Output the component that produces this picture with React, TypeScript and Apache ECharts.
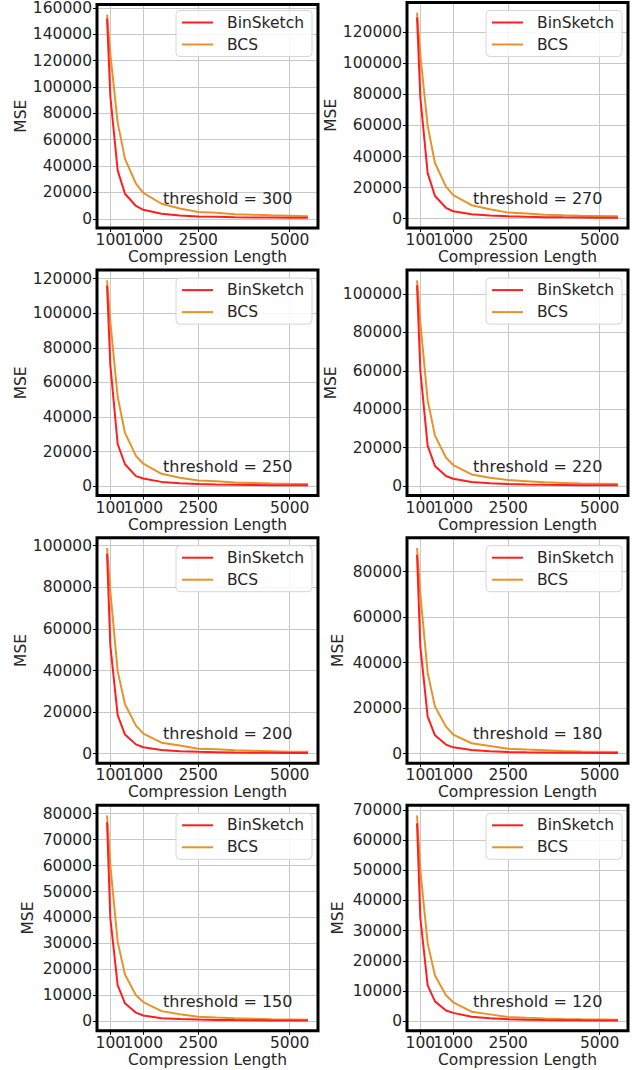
import React, { useEffect, useRef } from "react";
import * as echarts from "echarts";

// ---------- data ----------
const compressionLength = [10, 100, 300, 500, 800, 1000, 1500, 2000, 2500, 3000, 3500, 4000, 4500, 5000, 5500];
const xTicks = [100, 1000, 2500, 5000];

const binSketch300 = [152000, 93000, 36700, 19000, 9700, 6800, 3800, 2400, 1800, 1500, 1200, 1000, 900, 800, 700];
const bcs300 = [155000, 125000, 73000, 45500, 26600, 19700, 11400, 7800, 5200, 4500, 3500, 3000, 2600, 2300, 2000];

const binSketch270 = [129500, 78000, 29300, 14600, 7000, 4800, 2900, 2000, 1500, 1200, 1000, 850, 750, 650, 600];
const bcs270 = [132500, 105000, 59700, 35800, 20600, 15200, 8700, 6100, 3900, 3300, 2600, 2200, 1900, 1700, 1500];

const binSketch250 = [116000, 70000, 24400, 12700, 5850, 4500, 2500, 1700, 1300, 1000, 850, 700, 600, 550, 500];
const bcs250 = [119000, 95000, 51700, 30800, 17500, 13000, 7200, 4900, 3300, 2800, 2200, 1900, 1600, 1400, 1300];

const binSketch220 = [104400, 60000, 21000, 10500, 5300, 3900, 2200, 1500, 1100, 900, 750, 650, 550, 500, 450];
const bcs220 = [107000, 85000, 44700, 26300, 14900, 11000, 6100, 4400, 3200, 2600, 2000, 1700, 1400, 1300, 1100];

const binSketch200 = [96100, 52000, 18600, 9200, 4500, 3100, 1800, 1200, 900, 750, 600, 520, 450, 400, 380];
const bcs200 = [98900, 78000, 39700, 23800, 13500, 9700, 5300, 4000, 2400, 2100, 1700, 1400, 1200, 1000, 900];

const binSketch180 = [87400, 47000, 16300, 8100, 4000, 2800, 1600, 1100, 800, 650, 550, 470, 400, 360, 330];
const bcs180 = [90400, 70000, 35600, 20700, 11900, 8400, 4600, 3400, 2200, 1800, 1500, 1200, 1000, 900, 800];

const binSketch150 = [76700, 39700, 13900, 6900, 3300, 2200, 1200, 850, 650, 520, 440, 380, 330, 300, 270];
const bcs150 = [79300, 60000, 30600, 18000, 10000, 7400, 3900, 2700, 1700, 1400, 1150, 950, 800, 700, 600];

const binSketch120 = [65500, 34200, 11900, 6600, 3600, 2800, 1500, 1000, 700, 550, 450, 380, 330, 290, 260];
const bcs120 = [68100, 50000, 25800, 15200, 8600, 6300, 3200, 2300, 1400, 1150, 950, 800, 680, 600, 520];

const yTicks300 = [0, 20000, 40000, 60000, 80000, 100000, 120000, 140000, 160000];
const yTicks270 = [0, 20000, 40000, 60000, 80000, 100000, 120000];
const yTicks250 = [0, 20000, 40000, 60000, 80000, 100000, 120000];
const yTicks220 = [0, 20000, 40000, 60000, 80000, 100000];
const yTicks200 = [0, 20000, 40000, 60000, 80000, 100000];
const yTicks180 = [0, 20000, 40000, 60000, 80000];
const yTicks150 = [0, 10000, 20000, 30000, 40000, 50000, 60000, 70000, 80000];
const yTicks120 = [0, 10000, 20000, 30000, 40000, 50000, 60000, 70000];

const seriesNames = ["BinSketch", "BCS"];

const panels = [
  { threshold: 300, bin: binSketch300, bcs: bcs300, yTicks: yTicks300 },
  { threshold: 270, bin: binSketch270, bcs: bcs270, yTicks: yTicks270 },
  { threshold: 250, bin: binSketch250, bcs: bcs250, yTicks: yTicks250 },
  { threshold: 220, bin: binSketch220, bcs: bcs220, yTicks: yTicks220 },
  { threshold: 200, bin: binSketch200, bcs: bcs200, yTicks: yTicks200 },
  { threshold: 180, bin: binSketch180, bcs: bcs180, yTicks: yTicks180 },
  { threshold: 150, bin: binSketch150, bcs: bcs150, yTicks: yTicks150 },
  { threshold: 120, bin: binSketch120, bcs: bcs120, yTicks: yTicks120 },
];

// ---------- style ----------
const FONT = "DejaVu Sans";
const TEXT = "#262626";
const FS = 15.5;
const RED = "#ff1f1f";
const ORANGE = "#e8932a";
const GRIDLINE = "#c8c8c8";

function buildOption() {
  const grid: any[] = [];
  const xAxis: any[] = [];
  const yAxis: any[] = [];
  const series: any[] = [];
  const legend: any[] = [];
  const graphic: any[] = [];

  const labelBase = {
    fontFamily: FONT,
    fontSize: FS,
    color: TEXT,
    hideOverlap: false,
    showMinLabel: true,
    showMaxLabel: true,
    formatter: (v: number) => String(v),
  };

  panels.forEach((p, i) => {
    const col = i % 2;
    const row = Math.floor(i / 2);
    const left = col === 0 ? 97 : 407;
    const top = 2.5 + row * 267.6;
    const width = 221;
    const height = 225.5;

    grid.push({
      left, top, width, height,
      show: true,
      borderColor: "#000",
      borderWidth: 3,
      backgroundColor: "transparent",
      containLabel: false,
      z: 6,
    });

    const all = [...p.bin, ...p.bcs];
    const ymin = Math.min(...all);
    const ymax = Math.max(...all);
    const ypad = (ymax - ymin) * 0.05;
    const xmin = compressionLength[0];
    const xmax = compressionLength[compressionLength.length - 1];
    const xpad = (xmax - xmin) * 0.05;

    // main x axis (index 2i): ticks at all positions, labels for all but the first
    xAxis.push({
      type: "value",
      gridIndex: i,
      position: "bottom",
      min: xmin - xpad,
      max: xmax + xpad,
      name: "Compression Length",
      nameLocation: "middle",
      nameGap: 19,
      nameTextStyle: { fontFamily: FONT, fontSize: FS, color: TEXT },
      axisLine: { show: false, onZero: false },
      axisTick: { show: true, customValues: xTicks, length: 4, lineStyle: { color: "#000", width: 1 } },
      axisLabel: { ...labelBase, customValues: xTicks.slice(1), margin: 4 },
      splitLine: { show: false },
    });
    // secondary x axis (index 2i+1): only the first label, so that overlapping labels are both kept
    xAxis.push({
      type: "value",
      gridIndex: i,
      position: "bottom",
      min: xmin - xpad,
      max: xmax + xpad,
      axisLine: { show: false, onZero: false },
      axisTick: { show: false },
      axisLabel: { ...labelBase, customValues: xTicks.slice(0, 1), margin: 4 },
      splitLine: { show: false },
    });

    const maxTick = p.yTicks[p.yTicks.length - 1];
    const labelChars = String(maxTick).length;
    yAxis.push({
      type: "value",
      gridIndex: i,
      min: ymin - ypad,
      max: ymax + ypad,
      name: "MSE",
      nameLocation: "middle",
      nameRotate: 90,
      nameGap: labelChars * 7 + 26.5,
      nameTextStyle: { fontFamily: FONT, fontSize: FS, color: TEXT },
      axisLine: { show: false, onZero: false },
      axisTick: { show: true, customValues: p.yTicks, length: 4, lineStyle: { color: "#000", width: 1 } },
      axisLabel: { ...labelBase, customValues: p.yTicks, margin: 5 },
      splitLine: { show: false },
    });

    // gridlines at the tick positions
    series.push({
      type: "line",
      xAxisIndex: 2 * i,
      yAxisIndex: i,
      data: [],
      silent: true,
      z: 1,
      markLine: {
        silent: true,
        symbol: ["none", "none"],
        label: { show: false },
        animation: false,
        lineStyle: { color: GRIDLINE, width: 1, type: "solid" },
        emphasis: { disabled: true },
        data: [
          ...xTicks.map((v) => ({ xAxis: v })),
          ...p.yTicks.map((v) => ({ yAxis: v })),
        ],
      },
    });

    series.push({
      type: "line",
      name: seriesNames[0],
      xAxisIndex: 2 * i,
      yAxisIndex: i,
      data: compressionLength.map((x, k) => [x, p.bin[k]]),
      showSymbol: false,
      symbol: "none",
      color: RED,
      lineStyle: { color: RED, width: 2 },
      z: 11,
    });
    series.push({
      type: "line",
      name: seriesNames[1],
      xAxisIndex: 2 * i,
      yAxisIndex: i,
      data: compressionLength.map((x, k) => [x, p.bcs[k]]),
      showSymbol: false,
      symbol: "none",
      color: ORANGE,
      lineStyle: { color: ORANGE, width: 2 },
      z: 10,
    });

    legend.push({
      left: left + 79,
      top: top + 8,
      orient: "vertical",
      data: seriesNames,
      icon: "rect",
      itemWidth: 31,
      itemHeight: 2,
      itemGap: 6,
      padding: [4, 8, 4, 6],
      borderColor: "#d6d6d6",
      borderWidth: 1,
      borderRadius: 4,
      backgroundColor: "rgba(255,255,255,0.85)",
      selectedMode: false,
      z: 12,
      textStyle: { fontFamily: FONT, fontSize: FS, color: TEXT, padding: [0, 0, 0, 9], lineHeight: 15 },
    });

    graphic.push({
      type: "text",
      left: left + 66,
      top: top + 188,
      z: 12,
      style: {
        text: `threshold = ${p.threshold}`,
        fontFamily: FONT,
        fontSize: 16,
        fill: TEXT,
      },
    });
  });

  return {
    animation: false,
    backgroundColor: "#ffffff",
    grid,
    xAxis,
    yAxis,
    series,
    legend,
    graphic,
  };
}

export default function App() {
  const ref = useRef<HTMLDivElement>(null);
  useEffect(() => {
    if (!ref.current) return;
    const chart = echarts.init(ref.current, undefined, { renderer: "svg" });
    chart.setOption(buildOption() as any);
    return () => chart.dispose();
  }, []);
  return (
    <div
      ref={ref}
      style={{ position: "absolute", left: 0, top: 0, width: 634, height: 1070 }}
    />
  );
}
